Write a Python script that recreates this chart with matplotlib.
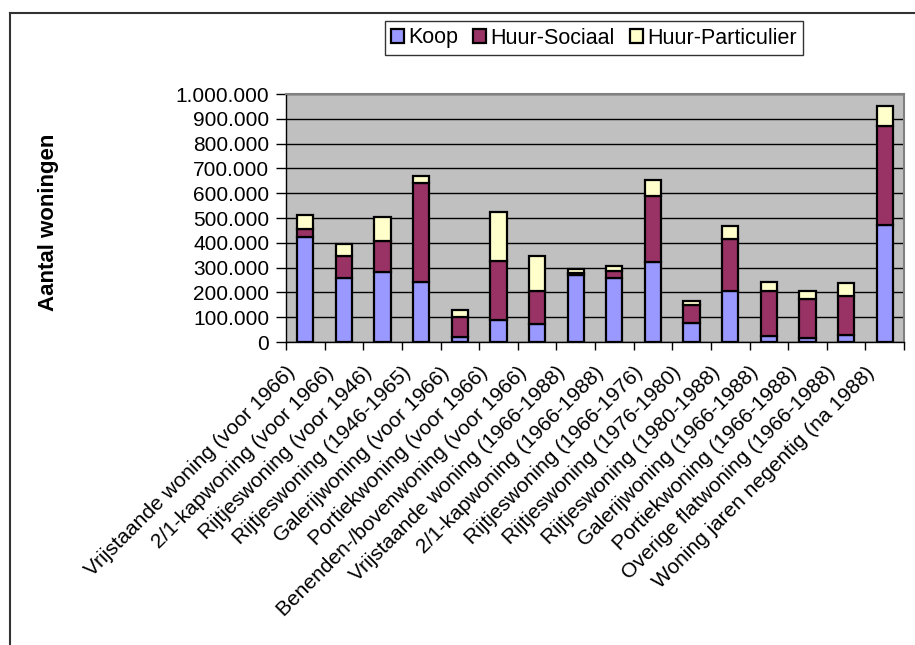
import numpy as np
import matplotlib

matplotlib.use('Agg')
import matplotlib.pyplot as plt
from matplotlib.lines import Line2D
from matplotlib.ticker import FuncFormatter, NullFormatter
from matplotlib.transforms import ScaledTranslation

plt.rcParams['font.family'] = ['Liberation Sans', 'DejaVu Sans']

TYPES = [
    'Vrijstaande woning (voor 1966)',
    '2/1-kapwoning (voor 1966)',
    'Rijtjeswoning (voor 1946)',
    'Rijtjeswoning (1946-1965)',
    'Galerijwoning (voor 1966)',
    'Portiekwoning (voor 1966)',
    'Benenden-/bovenwoning (voor 1966)',
    'Vrijstaande woning (1966-1988)',
    '2/1-kapwoning (1966-1988)',
    'Rijtjeswoning (1966-1976)',
    'Rijtjeswoning (1976-1980)',
    'Rijtjeswoning (1980-1988)',
    'Galerijwoning (1966-1988)',
    'Portiekwoning (1966-1988)',
    'Overige flatwoning (1966-1988)',
    'Woning jaren negentig (na 1988)',
]
KOOP = [425000, 257000, 284000, 240000, 19000, 88000, 74000, 270000,
        258000, 324000, 78000, 205000, 23000, 16000, 30000, 473000]
HUUR_SOCIAAL = [30000, 90000, 124000, 402000, 80000, 240000, 131000, 8000,
                27000, 264000, 73000, 211000, 182000, 156000, 156000, 399000]
HUUR_PARTICULIER = [58000, 48000, 95000, 27000, 29000, 195000, 140000, 18000,
                    20000, 67000, 14000, 53000, 38000, 35000, 50000, 78000]

SERIES = ['Koop', 'Huur-Sociaal', 'Huur-Particulier']
COLORS = ['#9999ff', '#993366', '#ffffcc']
FS = 15


def dotted(v, _pos):
    return f'{int(round(v)):,}'.replace(',', '.')


fig = plt.figure(figsize=(9.15, 6.45), dpi=100)
ax = fig.add_axes([286 / 915, 1 - 342 / 645, 618 / 915, 248 / 645])
ax.set_facecolor('#c0c0c0')

x = np.arange(len(TYPES))
bottom = np.zeros(len(TYPES))
for vals, name, col in zip([KOOP, HUUR_SOCIAAL, HUUR_PARTICULIER], SERIES, COLORS):
    ax.bar(x, vals, width=0.42, bottom=bottom, color=col, edgecolor='black',
           linewidth=1.6, label=name, zorder=3)
    bottom += np.array(vals)

ax.set_xlim(-0.5, len(TYPES) - 0.5)
ax.set_ylim(0, 1000000)
ax.set_yticks(np.arange(0, 1000001, 100000))
ax.yaxis.set_major_formatter(FuncFormatter(dotted))
ax.grid(axis='y', color='black', linewidth=1.0, zorder=1)

# tick marks on the category boundaries; the names are drawn as separate text
ax.set_xticks(np.arange(-0.5, len(TYPES)))
ax.xaxis.set_major_formatter(NullFormatter())
ax.tick_params(axis='x', length=6, width=1, direction='out')
ax.tick_params(axis='y', length=7, width=1, direction='out', labelsize=FS, pad=5)

# diagonal category names hanging just left of each bar centre
lbl_offset = ScaledTranslation(-0.20, -0.21, fig.dpi_scale_trans)
for xi, name in zip(x, TYPES):
    ax.text(xi, 0, name, transform=ax.get_xaxis_transform() + lbl_offset,
            rotation=45, ha='right', va='top', rotation_mode='anchor',
            fontsize=FS, clip_on=False)

for side in ['top', 'right']:
    ax.spines[side].set_color('#808080')
    ax.spines[side].set_linewidth(1.5)
for side in ['left', 'bottom']:
    ax.spines[side].set_color('black')
    ax.spines[side].set_linewidth(1.0)

fig.text(49 / 915, 1 - 222 / 645, 'Aantal woningen', rotation=90,
         ha='center', va='center', fontsize=16, fontweight='bold')

leg = fig.legend(loc='center', bbox_to_anchor=(594 / 915, 1 - 38 / 645), ncol=3,
                 fontsize=FS + 0.5, frameon=True, fancybox=False, edgecolor='black',
                 handlelength=0.6, handleheight=0.6, handletextpad=0.2,
                 columnspacing=0.7, borderpad=0.3, borderaxespad=0)
leg.get_frame().set_linewidth(1.0)

# chart area border, running off the right and bottom of the image
fig.add_artist(Line2D([10 / 915, 10 / 915], [-0.1, 1 - 13 / 645],
                      transform=fig.transFigure, color='#333333', linewidth=1.5))
fig.add_artist(Line2D([10 / 915, 1.1], [1 - 13 / 645, 1 - 13 / 645],
                      transform=fig.transFigure, color='#333333', linewidth=1.5))

fig.savefig('out.png', dpi=100)
